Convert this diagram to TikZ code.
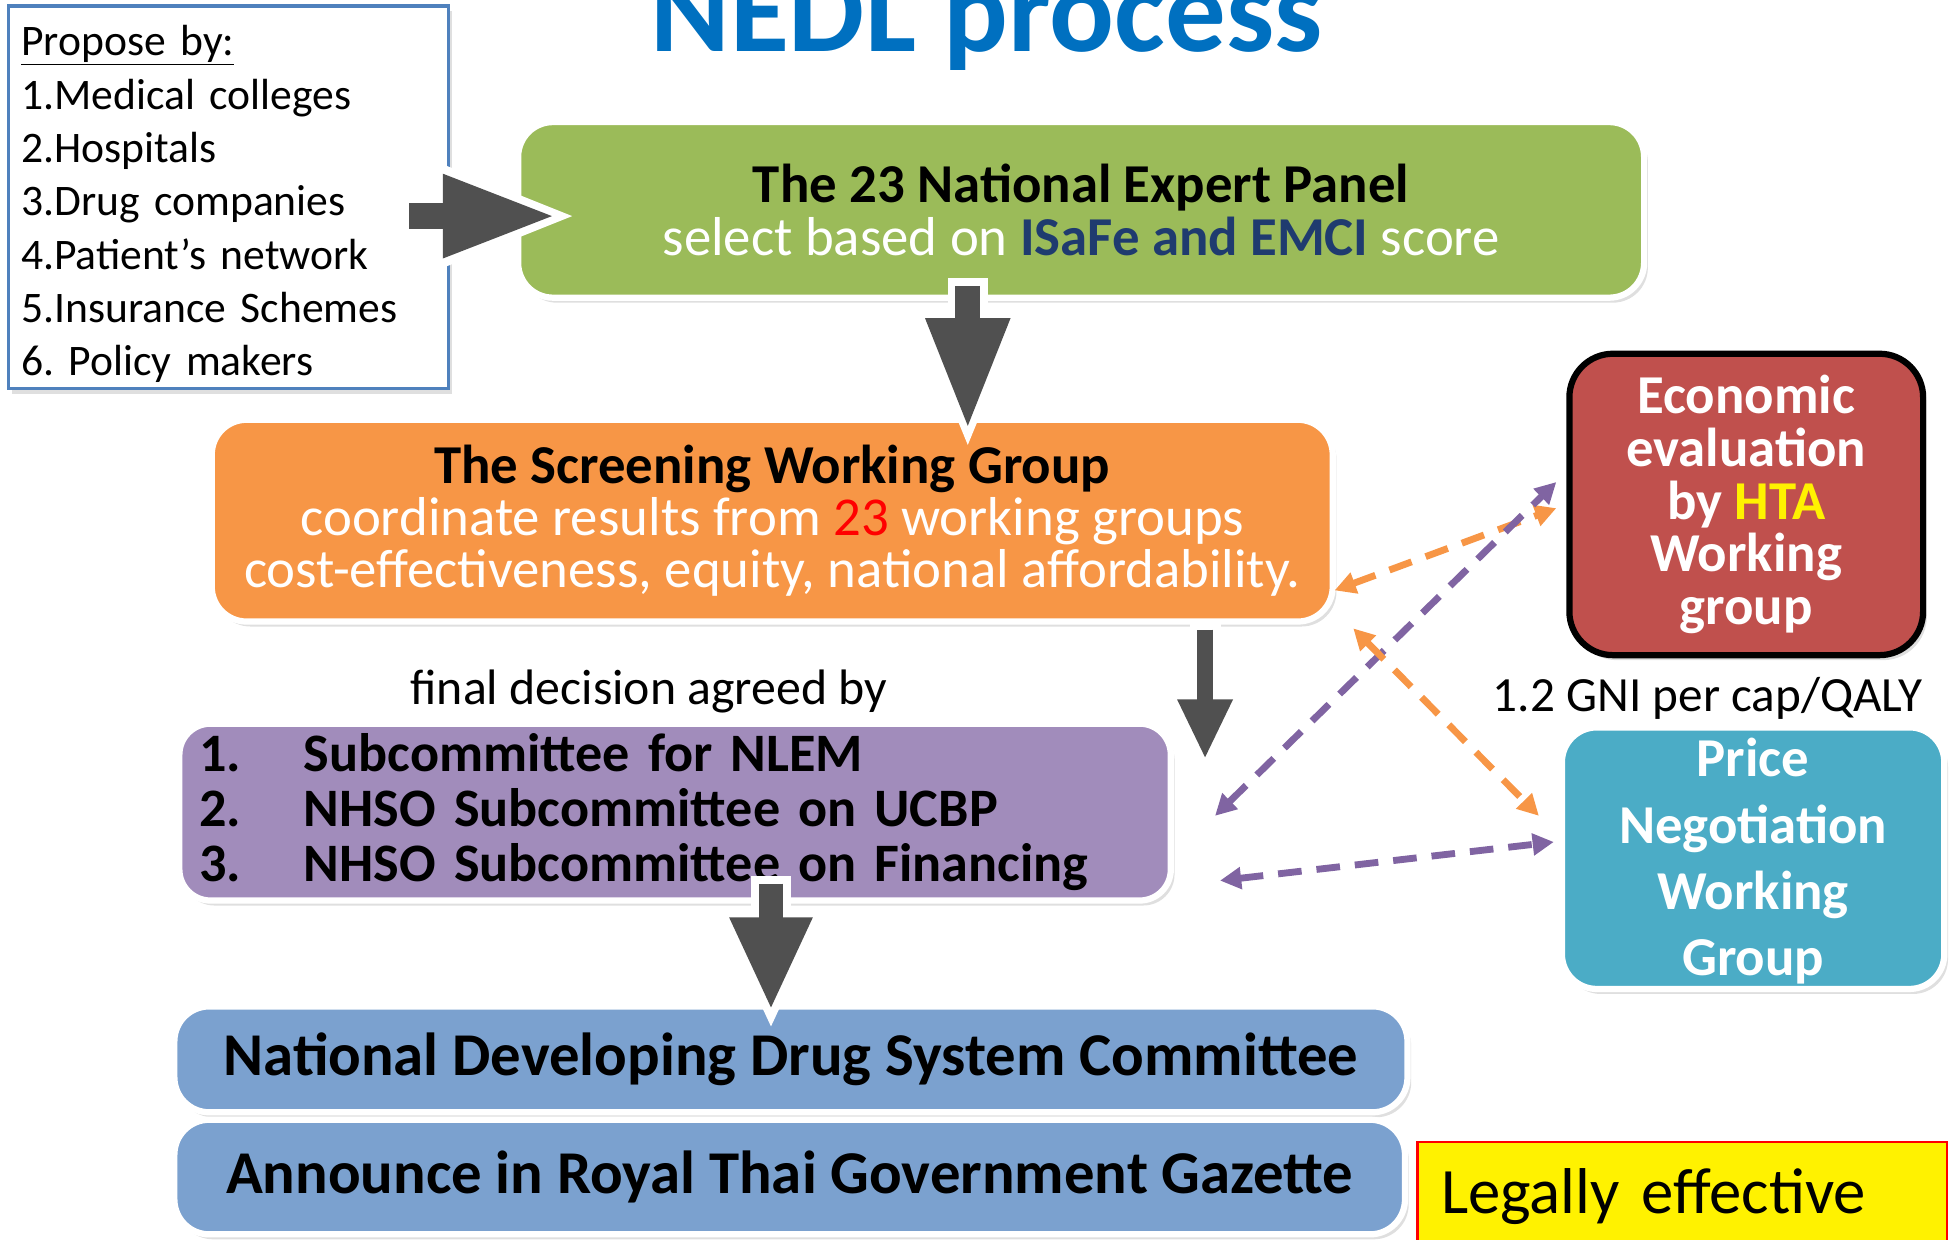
\documentclass[tikz,border=0pt]{standalone}
\usepackage{fontspec}
\setmainfont{Carlito}
\usepackage{xcolor}
\usetikzlibrary{calc, shadows, arrows.meta}

\definecolor{panelgreen}{HTML}{9BBB59}
\definecolor{screenorange}{HTML}{F79646}
\definecolor{decisionpurple}{HTML}{A18CBB}
\definecolor{linkpurple}{HTML}{8064A2}
\definecolor{committeeblue}{HTML}{7BA1CF}
\definecolor{htared}{HTML}{C0504D}
\definecolor{priceteal}{HTML}{4BACC6}
\definecolor{arrowgray}{HTML}{505050}
\definecolor{titleblue}{HTML}{0070C0}
\definecolor{scoreblue}{HTML}{1F3B6F}
\definecolor{proposeblue}{HTML}{4F81BD}

\begin{document}
\frenchspacing
\begin{tikzpicture}[x=1pt, y=-1pt,
		box/.style={rounded corners=28pt, draw=white, line width=5pt, text=white, align=center, inner ysep=0pt,
			font=\fontsize{44}{42}\selectfont, drop shadow={shadow xshift=3pt, shadow yshift=-4pt, opacity=0.25}},
		blockarrow/.style n args={5}{draw=arrowgray, line width=#1pt, -{Triangle[length=#2pt, width=#3pt]},
			preaction={draw=white, line width={#1pt+12pt}, shorten <=-6pt, shorten >=-#5pt,
				-{Triangle[length=#2pt, width=#3pt, scale=#4]}}},
		dasharrow/.style={line width=5.5pt, dash pattern=on 19pt off 12pt,
			{Triangle[length=17pt, width=17pt]}-{Triangle[length=17pt, width=17pt]}}]
			\def\W{1568};
			\def\H{995};
			\useasboundingbox (0,0) rectangle (\W,\H);
			
			\node[font=\fontsize{97}{100}\selectfont\bfseries, text=titleblue, anchor=base] (title) at (792,41.5) {NEDL process};
			
			\node[draw=proposeblue, line width=2.8pt, fill=white, minimum width=353pt, minimum height=307pt,
				text width=333pt, inner xsep=10pt, align=left, font=\fontsize{35}{42.8}\selectfont,
				drop shadow={shadow xshift=3pt, shadow yshift=-4pt, opacity=0.25}] (propose) at (183.5,158.5)
				{\rule{0pt}{35pt}\underline{Propose by:}\\1.Medical colleges\\2.Hospitals\\3.Drug companies\\4.Patient’s network\\5.Insurance Schemes\\6. Policy makers};
			
			\node[box, fill=panelgreen, minimum width=904pt, minimum height=141pt] (panel) at (868,168.5)
				{\textcolor{black}{\bfseries The 23 National Expert Panel}\\select based on \textcolor{scoreblue}{\bfseries ISaFe and EMCI} score};
			
			\node[box, fill=screenorange, minimum width=900pt, minimum height=162pt] (screening) at (620,418)
				{\textcolor{black}{\bfseries The Screening Working Group}\\coordinate results from \textcolor{red}{23} working groups\\cost-effectiveness, equity, national affordability.};
			
			\node[font=\fontsize{40}{48}\selectfont, anchor=base] (agreed) at (521,566) {final decision agreed by};
			
			\node[box, fill=decisionpurple, rounded corners=25pt, text=black, minimum width=796pt, minimum height=142pt,
				text width=764pt, inner xsep=16pt, align=left, font=\fontsize{43.5}{44}\selectfont\bfseries] (decision) at (542,652)
				{\makebox[84pt][l]{1.}Subcommittee for NLEM\\\makebox[84pt][l]{2.}NHSO Subcommittee on UCBP\\\makebox[84pt][l]{3.}NHSO Subcommittee on Financing};
			
			\node[box, draw=black, fill=htared, rounded corners=35pt, minimum width=284pt, minimum height=242pt,
				font=\fontsize{44}{42.3}\selectfont\bfseries] (hta) at (1402,405)
				{Economic\\evaluation\\by \textcolor{yellow}{HTA}\\Working\\group};
			
			\node[font=\fontsize{39.5}{48}\selectfont, anchor=base] (threshold) at (1371,571) {1.2 GNI per cap/QALY};
			
			\node[box, fill=priceteal, minimum width=307pt, minimum height=210pt,
				font=\fontsize{44}{53.3}\selectfont\bfseries] (price) at (1407.5,689)
				{\rule{0pt}{36pt}Price\\Negotiation\\Working\\Group};
			
			\begin{scope}[every node/.style={box, fill=committeeblue, text=black, font=\fontsize{48.8}{50}\selectfont\bfseries}]
				\node[minimum width=990pt, minimum height=85pt] (ndds) at (635,850.5) {National Developing Drug System Committee};
				\node[minimum width=988pt, minimum height=92pt] (gazette) at (634,945) {Announce in Royal Thai Government Gazette};
			\end{scope}
			
			\node[draw=red, line width=2pt, fill=yellow, anchor=base west, text height=40pt, text depth=60pt,
				inner xsep=19pt, inner ysep=17pt, text width=387pt, align=left, font=\fontsize{52}{60}\selectfont] (legal) at (1137,974)
				{Legally effective};
			
			\coordinate (decide) at (967.5,609.5);
			
			\draw[blockarrow={21}{92}{61}{1.27}{19}] ($(propose.east)+(-33,15)$) -- ($(panel.west)+(34,5)$);
			\draw[blockarrow={20}{90}{62}{1.27}{18}] ($(panel.south)+(-91,-12)$) -- ($(screening.north)+(157,11)$);
			\draw[blockarrow={13}{48}{41}{1.44}{15}] ($(screening.south)+(347.5,4)$) -- (decide);
			\draw[blockarrow={20}{75}{61}{1.29}{16}] ($(decision.south)+(77,-16)$) -- ($(ndds.north)+(-16,6)$);
			
			\begin{scope}[dasharrow]
				\draw[screenorange] ($(screening.east)+(-1,56)$) -- ($(hta.west)+(-8,3)$);
				\draw[linkpurple] ($(decision.east)+(33,3)$) -- ($(hta.west)+(-8,-18)$);
				\draw[screenorange] ($(screening.south east)+(14,3)$) -- ($(price.west)+(-16,-34)$);
				\draw[linkpurple] ($(decision.east)+(37,55)$) -- ($(price.west)+(-4,-13)$);
			\end{scope}
		\end{tikzpicture}
\end{document}
